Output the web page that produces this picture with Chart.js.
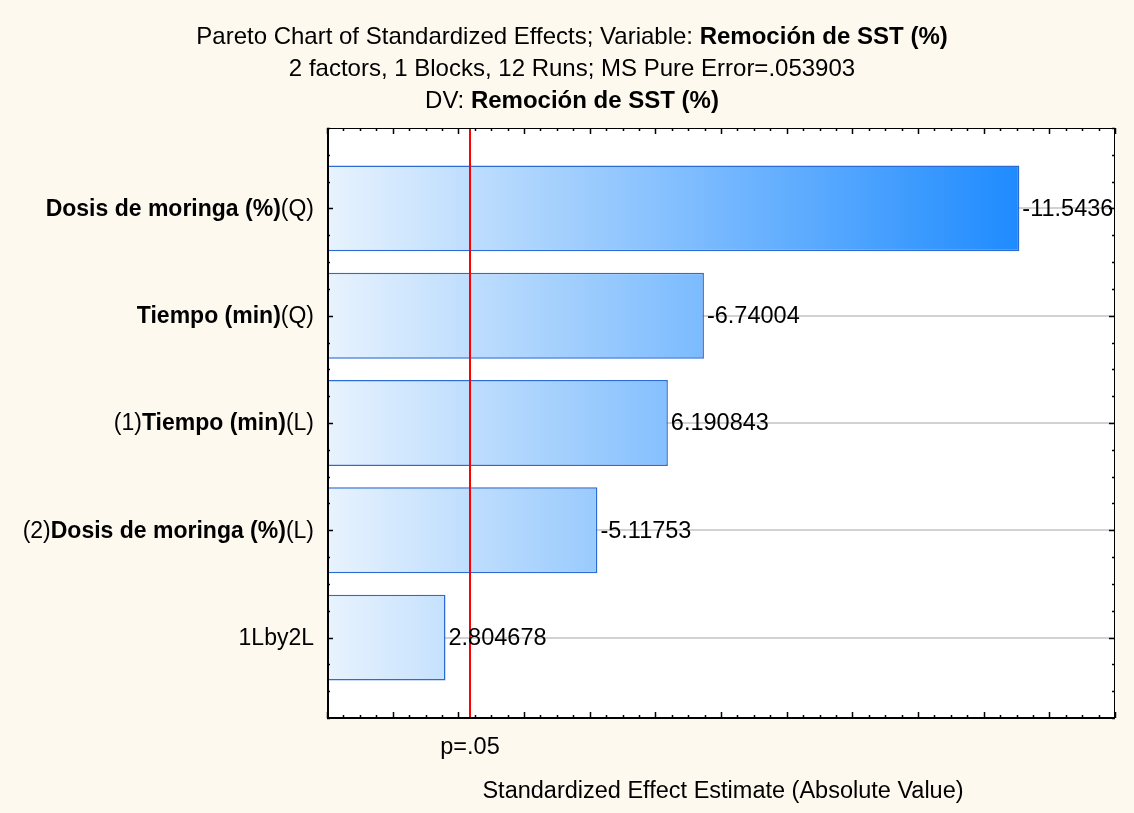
<!DOCTYPE html>
<html>
<head>
<meta charset="utf-8">
<script src="https://cdn.jsdelivr.net/npm/chart.js@4.4.1/dist/chart.umd.min.js"></script>
<style>
  html, body { margin: 0; padding: 0; background: #fdf9ef; }
  canvas { display: block; }
</style>
</head>
<body>
<canvas id="c" width="1134" height="813"></canvas>
<script>
// ---- data ----
const categoryPrefix = ["", "", "(1)", "(2)", "1Lby2L"];
const categoryBold   = ["Dosis de moringa (%)", "Tiempo (min)", "Tiempo (min)", "Dosis de moringa (%)", ""];
const categorySuffix = ["(Q)", "(Q)", "(L)", "(L)", ""];
const effectValues   = [-11.5436, -6.74004, 6.190843, -5.11753, 2.804678];
const effectLabels   = ["-11.5436", "-6.74004", "6.190843", "-5.11753", "2.804678"];
const pCritical = 3.182446;
const pLabel = "p=.05";
const titleLines = [
  [["Pareto Chart of Standardized Effects; Variable: ", false], ["Remoción de SST (%)", true]],
  [["2 factors, 1 Blocks, 12 Runs; MS Pure Error=.053903", false]],
  [["DV: ", false], ["Remoción de SST (%)", true]]
];
const xAxisTitle = "Standardized Effect Estimate (Absolute Value)";

const FONT = '"Liberation Sans", Arial, sans-serif';
const TITLE_FONT = '"Liberation Sans", Arial, sans-serif';

function drawRich(ctx, segs, x, y, align, size, fontFam) {
  let total = 0;
  const widths = segs.map(([t, b]) => {
    ctx.font = (b ? 'bold ' : '') + size + 'px ' + fontFam;
    const w = ctx.measureText(t).width;
    total += w;
    return w;
  });
  let cx = align === 'right' ? x - total : (align === 'center' ? x - total / 2 : x);
  ctx.textAlign = 'left';
  ctx.textBaseline = 'middle';
  segs.forEach(([t, b], i) => {
    ctx.font = (b ? 'bold ' : '') + size + 'px ' + fontFam;
    ctx.fillText(t, cx, y);
    cx += widths[i];
  });
}

const decor = {
  id: 'decor',
  beforeDraw(chart) {
    const ctx = chart.ctx, a = chart.chartArea;
    ctx.save();
    ctx.fillStyle = '#fdf9ef';
    ctx.fillRect(0, 0, chart.width, chart.height);
    ctx.fillStyle = '#ffffff';
    ctx.fillRect(a.left, a.top, a.right - a.left, a.bottom - a.top);
    const ys = chart.scales.y;
    ctx.strokeStyle = '#d2d2d2';
    ctx.lineWidth = 2;
    for (let i = 1; i <= categoryBold.length; i++) {
      const py = Math.round(ys.getPixelForValue(i));
      ctx.beginPath(); ctx.moveTo(a.left, py); ctx.lineTo(a.right, py); ctx.stroke();
    }
    ctx.restore();
  },
  afterDatasetsDraw(chart) {
    const ctx = chart.ctx, a = chart.chartArea;
    const xs = chart.scales.x, ys = chart.scales.y;
    ctx.save();
    const rx = Math.round(xs.getPixelForValue(pCritical));
    ctx.strokeStyle = '#ff0000';
    ctx.lineWidth = 2;
    ctx.beginPath(); ctx.moveTo(rx, a.top); ctx.lineTo(rx, a.bottom); ctx.stroke();
    ctx.fillStyle = '#000';
    effectValues.forEach((v, i) => {
      const px = xs.getPixelForValue(Math.abs(v));
      const py = ys.getPixelForValue(i + 1);
      drawRich(ctx, [[effectLabels[i], false]], px + 3, py + 1, 'left', 23.5, FONT);
    });
    // frame
    ctx.strokeStyle = '#000';
    ctx.lineWidth = 1;
    ctx.strokeRect(a.left + 0.5, a.top + 0.5, a.right - a.left - 1, a.bottom - a.top - 1);
    ctx.lineWidth = 2;
    ctx.beginPath(); ctx.moveTo(a.left, a.bottom); ctx.lineTo(a.right, a.bottom); ctx.stroke();
    ctx.beginPath(); ctx.moveTo(a.left + 1, a.top); ctx.lineTo(a.left + 1, a.bottom); ctx.stroke();
    ctx.lineWidth = 1.5;
    for (let v = xs.min; v <= xs.max + 1e-9; v += 0.25) {
      const px = Math.round(xs.getPixelForValue(v)) + 0.5;
      const major = Math.abs(v - Math.round(v)) < 1e-6;
      const len = major ? 6 : 3;
      ctx.beginPath(); ctx.moveTo(px, a.bottom); ctx.lineTo(px, a.bottom - len); ctx.stroke();
      ctx.beginPath(); ctx.moveTo(px, a.top); ctx.lineTo(px, a.top + len); ctx.stroke();
    }
    for (let v = ys.min; v <= ys.max + 1e-9; v += 0.25) {
      const py = Math.round(ys.getPixelForValue(v)) + 0.5;
      const major = Math.abs(v - Math.round(v)) < 1e-6;
      const len = major ? 6 : 3;
      ctx.beginPath(); ctx.moveTo(a.left, py); ctx.lineTo(a.left + len, py); ctx.stroke();
      ctx.beginPath(); ctx.moveTo(a.right, py); ctx.lineTo(a.right - len, py); ctx.stroke();
    }
    ctx.fillStyle = '#000';
    for (let i = 0; i < categoryBold.length; i++) {
      const py = ys.getPixelForValue(i + 1);
      const segs = [];
      if (categoryPrefix[i]) segs.push([categoryPrefix[i], false]);
      if (categoryBold[i]) segs.push([categoryBold[i], true]);
      if (categorySuffix[i]) segs.push([categorySuffix[i], false]);
      drawRich(ctx, segs, a.left - 13, py + 1, 'right', 23, FONT);
    }
    drawRich(ctx, [[pLabel, false]], rx, a.bottom + 30, 'center', 23.5, FONT);
    drawRich(ctx, [[xAxisTitle, false]], (a.left + a.right) / 2 + 2, a.bottom + 74, 'center', 23.5, FONT);
    titleLines.forEach((segs, i) => {
      drawRich(ctx, segs, 572, 37 + i * 32, 'center', 24, TITLE_FONT);
    });
    ctx.restore();
  }
};

const ctx = document.getElementById('c').getContext('2d');
new Chart(ctx, {
  type: 'bar',
  data: {
    datasets: [{
      data: effectValues.map((v, i) => ({ x: Math.abs(v), y: i + 1 })),
      backgroundColor(c) {
        const ch = c.chart, a = ch.chartArea;
        if (!a) return '#8ec4fb';
        const g = ch.ctx.createLinearGradient(a.left, 0, ch.scales.x.getPixelForValue(Math.max(...effectValues.map(Math.abs))), 0);
        g.addColorStop(0, '#e8f3fd');
        g.addColorStop(1, '#1e8bff');
        return g;
      },
      borderColor: '#2c6ad6',
      borderWidth: 1.5,
      borderSkipped: false,
      barPercentage: 0.8,
      categoryPercentage: 1
    }]
  },
  options: {
    indexAxis: 'y',
    responsive: false,
    animation: false,
    layout: { padding: { left: 327, right: 19, top: 128, bottom: 95 } },
    plugins: { legend: { display: false }, tooltip: { enabled: false } },
    scales: {
      x: { type: 'linear', min: 1, max: 13, display: false, offset: false },
      y: {
        type: 'linear', min: 0.25, max: 5.75, reverse: true, display: false, offset: false,
        afterBuildTicks(scale) {
          scale.ticks = categoryBold.map((_, i) => ({ value: i + 1 }));
        }
      }
    }
  },
  plugins: [decor]
});
</script>
</body>
</html>
